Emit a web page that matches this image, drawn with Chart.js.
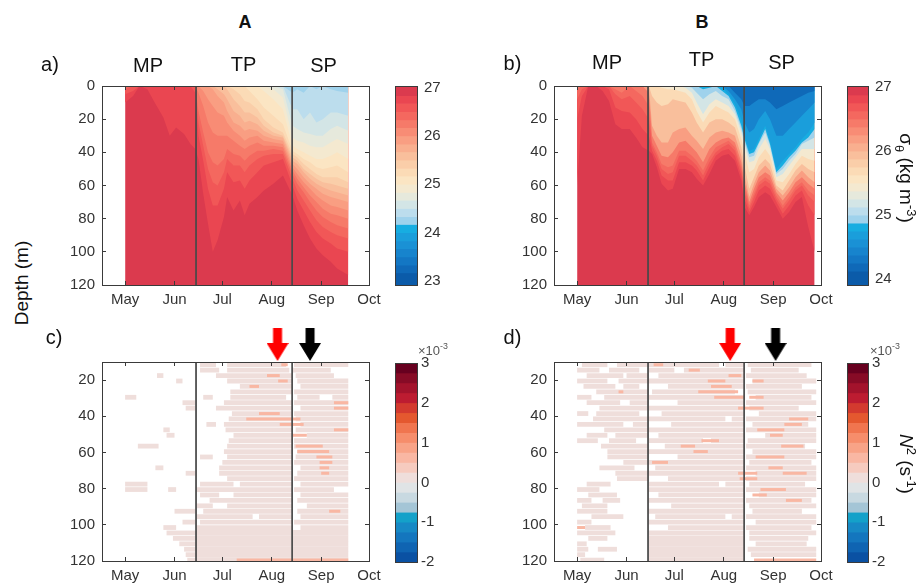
<!DOCTYPE html>
<html><head><meta charset="utf-8">
<script src="https://cdn.jsdelivr.net/npm/chart.js@4.4.1/dist/chart.umd.min.js"></script>
<style>
body{margin:0;background:#fff;}
#fig{position:relative;width:919px;height:587px;overflow:hidden;background:#fff;font-family:"Liberation Sans",Arial,Helvetica,sans-serif;}
canvas{position:absolute;}
.t{position:absolute;white-space:nowrap;transform:translate(-50%,-50%);color:#111;line-height:1;}
.t sub,.t sup{font-size:0.68em;line-height:0;}
</style></head><body><div id="fig"></div>
<script>
// ---------- axes / ticks ----------
const monthTicks = [121,152,182,213,244,274];
const monthNames = ['May','Jun','Jul','Aug','Sep','Oct'];
const depthTicksAB = [0,20,40,60,80,100,120];
const depthTicksCD = [20,40,60,80,100,120];
const timeMin = 106.5, timeMax = 274;
const maxDepth = 120;
const phaseLines = [165.5, 225.8];

// ---------- colour maps ----------
const sigmaColors = ['#db3a4e','#ea4651','#f15757','#f4685f','#f67a69','#f88c75','#f99e82','#f9af8f','#f9bf9c','#facea9','#fbdbb6','#fbe5c3','#f4e9d0','#e6e9dc','#d3e5e6','#bcdded','#9fd2ec','#17ade1','#1a9edb','#1a91d5','#1784cd','#1377c4','#0f69b8','#0b5ba9'];
const n2Colors = ['#67001f','#870b26','#a3132c','#bd1c31','#d33a2f','#e4582f','#f0754f','#f68d6b','#f8a387','#f9b7a3','#f6cbbf','#efdedb','#e0e4e6','#c8d9e1','#a4c5d6','#14a1c9','#1789c5','#1476be','#0f64b2','#0a51a3'];
const edgesA = [27.03,26.83,26.67,26.5,26.33,26.17,26.0,25.83,25.67,25.5,25.33,25.17,25.0,24.83,24.67,24.5,24.33,24.17,24.0,23.83,23.67,23.5,23.33,23.17,22.92];
const edgesB = [27.015,26.875,26.75,26.625,26.5,26.375,26.25,26.125,26.0,25.875,25.75,25.625,25.5,25.375,25.25,25.125,25.0,24.875,24.75,24.625,24.5,24.375,24.25,24.125,23.91];
const edgesN2 = [3,2.75,2.5,2.25,2,1.75,1.5,1.25,1,0.75,0.5,0.25,0,-0.25,-0.5,-0.75,-1,-1.25,-1.5,-1.75,-2];
const cbTicksA = [23,24,25,26,27];
const cbTicksB = [24,25,26,27];
const cbTicksN2 = [-2,-1,0,1,2,3];

// ---------- panel a: isopycnal depths (m) ----------
const timesA = [121,126,130,135,139,145,149,153,158,162,165,167,170,173,176,179,183,185,189,193,196,199,204,208,214,220,226,229,233,237,241,245,250,254,261];
const levelsA = [26.83,26.67,26.5,26.33,26.17,26.0,25.83,25.67,25.5,25.33,25.17,25.0,24.83,24.67,24.5,24.33];
const a26_83 = [10,6,0,2,9,19,30,25,29,35,38, 44,65,83,100,93,79,67,75,69,78,71,67,63,59,54,66, 75,84,92,98,102,106,110,114];
const a26_67 = [5,3,0,0,0,0,0,0,0,0,4, 30,45,62,72,72,62,52,58,57,62,57,52,48,46,44,60, 68,75,82,88,92,95,98,100];
const a26_50 = [2,0,0,0,0,0,0,0,0,0,0, 22,36,50,58,60,52,44,48,48,52,48,44,42,41,41,56, 63,69,75,81,85,88,90,92];
const a26_33 = [0,0,0,0,0,0,0,0,0,0,0, 15,28,40,46,48,44,38,41,42,45,42,39,39,38,39,53, 59,64,70,75,79,82,84,86];
const a26_17 = [0,0,0,0,0,0,0,0,0,0,0, 4,12,22,28,30,30,30,33,36,38,36,34,36,36,37,51, 56,61,66,70,74,77,78,80];
const a26_00 = [0,0,0,0,0,0,0,0,0,0,0, 0,3,8,12,16,18,22,27,30,33,31,30,33,34,35,49, 53,58,62,66,69,72,73,75];
const a25_83 = [0,0,0,0,0,0,0,0,0,0,0, 0,0,0,2,6,10,15,22,24,27,26,27,30,32,33,47, 50,55,59,62,65,67,68,70];
const a25_67 = [0,0,0,0,0,0,0,0,0,0,0, 0,0,0,0,2,5,8,15,18,22,21,23,27,30,31,45, 47,52,56,59,61,63,64,66];
const a25_50 = [0,0,0,0,0,0,0,0,0,0,0, 0,0,0,0,0,0,2,8,12,16,16,19,24,28,30,43, 45,50,53,56,58,59,60,62];
const a25_33 = [0,0,0,0,0,0,0,0,0,0,0, 0,0,0,0,0,0,0,2,5,9,10,14,20,25,28,41, 43,47,50,53,55,55,55,58];
const a25_17 = [0,0,0,0,0,0,0,0,0,0,0, 0,0,0,0,0,0,0,0,0,0,3,8,13,18,23,39, 41,44,46,49,50,49,48,52];
const a25_00 = [0,0,0,0,0,0,0,0,0,0,0, 0,0,0,0,0,0,0,0,0,0,0,0,3,8,14,36, 38,40,42,44,44,42,40,44];
const a24_83 = [0,0,0,0,0,0,0,0,0,0,0, 0,0,0,0,0,0,0,0,0,0,0,0,0,2,7,31, 33,34,36,37,37,34,32,35];
const a24_67 = [0,0,0,0,0,0,0,0,0,0,0, 0,0,0,0,0,0,0,0,0,0,0,0,0,0,2,24, 26,28,29,30,30,26,24,27];
const a24_50 = [0,0,0,0,0,0,0,0,0,0,0, 0,0,0,0,0,0,0,0,0,0,0,0,0,0,0,14, 14,20,16,22,20,16,16,18];
const a24_33 = [0,0,0,0,0,0,0,0,0,0,0, 0,0,0,0,0,0,0,0,0,0,0,0,0,0,0,4, 2,4,0,2,0,2,3,4];
const isoA = [a26_83,a26_67,a26_50,a26_33,a26_17,a26_00,a25_83,a25_67,a25_50,a25_33,a25_17,a25_00,a24_83,a24_67,a24_50,a24_33];

// ---------- panel b: isopycnal depths (m) ----------
const timesB = [121,124,128,133,137,141,145,149,154,158,162,166, 168,171,174,178,181,185,189,193,196,200,204,208,212,216,220,224,226, 229,232,235,239,242,246,250,254,258,262,266,270];
const levelsB = [26.875,26.75,26.625,26.5,26.25,26.0,25.75,25.5,25.25,25.0,24.875,24.75,24.5,24.25];
const b26_875 = [60,18,0,0,3,9,23,26,26,31,37,39, 41,49,59,63,62,50,50,52,56,60,53,45,42,41,45,57,73, 78,73,67,64,66,73,80,76,70,67,85,100];
const b26_750 = [20,6,0,0,0,2,13,15,16,20,26,30, 39,45,54,57,57,46,46,48,51,57,49,42,39,38,42,54,68, 76,70,63,60,62,70,77,72,66,63,72,78];
const b26_625 = [8,2,0,0,0,0,5,8,6,10,14,20, 36,42,50,53,52,42,42,45,48,54,46,40,37,35,39,51,64, 74,67,60,57,59,68,74,69,63,60,66,70];
const b26_500 = [2,0,0,0,0,0,2,4,0,3,6,12, 34,40,47,49,48,39,39,42,45,51,43,37,35,33,37,49,61, 72,65,58,55,57,66,72,67,61,58,63,66];
const b26_250 = [0,0,0,0,0,0,0,0,0,0,0,4, 30,36,42,43,40,34,33,37,40,46,38,34,32,31,34,46,58, 70,62,55,52,54,64,69,64,58,55,59,62];
const b26_000 = [0,0,0,0,0,0,0,0,0,0,0,0, 24,30,34,34,28,26,25,30,33,38,31,28,27,28,30,42,54, 67,59,52,48,51,62,66,61,55,51,55,58];
const b25_750 = [0,0,0,0,0,0,0,0,0,0,0,0, 6,10,12,11,8,9,10,16,22,28,22,20,20,22,25,37,48, 62,55,48,44,47,60,63,57,51,47,50,52];
const b25_500 = [0,0,0,0,0,0,0,0,0,0,0,0, 0,0,1,2,2,3,4,8,15,22,16,12,14,16,20,32,40, 52,50,43,38,42,57,58,53,47,42,44,45];
const b25_250 = [0,0,0,0,0,0,0,0,0,0,0,0, 0,0,0,0,0,0,1,4,10,17,11,8,10,12,17,28,36, 46,45,38,32,38,55,53,48,43,38,38,38];
const b25_000 = [0,0,0,0,0,0,0,0,0,0,0,0, 0,0,0,0,0,0,0,1,4,8,5,3,6,8,15,26,34, 43,42,35,28,36,53,50,45,41,35,33,31];
const b24_875 = [0,0,0,0,0,0,0,0,0,0,0,0, 0,0,0,0,0,0,0,0,0,2,1,0,3,6,13,24,32, 41,40,34,26,35,52,48,43,39,34,31,26];
const b24_750 = [0,0,0,0,0,0,0,0,0,0,0,0, 0,0,0,0,0,0,0,0,0,0,0,0,1,5,11,20,30, 39,38,32,24,33,50,45,41,37,32,28,22];
const b24_500 = [0,0,0,0,0,0,0,0,0,0,0,0, 0,0,0,0,0,0,0,0,0,0,0,0,0,3,8,14,22, 28,26,20,15,20,30,30,26,22,18,14,10];
const b24_250 = [0,0,0,0,0,0,0,0,0,0,0,0, 0,0,0,0,0,0,0,0,0,0,0,0,0,0,4,8,12, 12,10,8,8,10,14,12,10,8,6,4,3];
const isoB = [b26_875,b26_750,b26_625,b26_500,b26_250,b26_000,b25_750,b25_500,b25_250,b25_000,b24_875,b24_750,b24_500,b24_250];

// ---------- panels c, d: N^2 streaks [depth, start day, end day] ----------
const paleC = [
 [17.5,141,145],[20.5,153,157],[29.5,121,128],[32.5,157,165],[35.5,159,165],[47.5,145,149],[50.5,147,152],[56.5,129,142],[68.5,140,145],[71.5,159,165],[77.5,121,135],[80.5,121,135],[80.5,148,153],[92.5,152,165],[98.5,157,165],[101.5,145,153],
 [104.5,147,166],[107.5,151,166],[110.5,155,166],[113.5,158,166],[116.5,159,166],[119.5,160,166],
 [11.5,168,178],[11.5,185,222],[11.5,227,261],[14.5,168,180],[14.5,185,224],[14.5,226,250],[17.5,178,226],[17.5,228,252],
 [20.5,185,226],[20.5,229,261],[23.5,193,226],[23.5,231,261],[26.5,187,226],[26.5,227,261],[29.5,170,176],[29.5,187,222],[29.5,229,243],[29.5,251,261],
 [32.5,183,226],[32.5,227,261],[35.5,178,226],[35.5,231,261],[38.5,188,226],[38.5,227,261],[41.5,186,226],[41.5,228,261],
 [44.5,172,178],[44.5,183,226],[44.5,231,261],[47.5,184,226],[47.5,228,261],[50.5,189,226],[50.5,235,261],[53.5,186,226],[53.5,227,261],
 [56.5,185,226],[56.5,227,261],[59.5,183,226],[59.5,229,261],[62.5,168,176],[62.5,185,226],[62.5,228,261],[65.5,182,226],[65.5,227,261],
 [68.5,180,226],[68.5,231,261],[71.5,180,226],[71.5,229,261],[74.5,185,226],[74.5,227,261],[77.5,168,189],[77.5,193,226],[77.5,231,261],
 [80.5,166,226],[80.5,227,252],[83.5,168,180],[83.5,189,226],[83.5,231,261],[86.5,174,226],[86.5,229,261],
 [89.5,166,176],[89.5,185,226],[89.5,235,261],[92.5,170,226],[92.5,229,261],[95.5,166,201],[95.5,205,226],[95.5,231,261],
 [98.5,168,226],[98.5,227,261],[101.5,166,226],[101.5,231,261]
];
const solidC = [[104.5,166,261],[107.5,166,261],[110.5,166,261],[113.5,166,261],[116.5,166,261],[119.5,166,261]];
const salmonC = [
 [11.5,219,223],[17.5,210,218],[20.5,217,223],[23.5,199,205],[32.5,252,261],[35.5,252,261],[38.5,205,218],[41.5,197,231],
 [44.5,218,233],[47.5,252,261],[50.5,226,235],[56.5,228,245],[59.5,229,249],[62.5,241,251],[65.5,243,251],[68.5,243,249],
 [71.5,244,249],[92.5,249,256],[119.5,191,261]
];
const paleD = [
 [11.5,124,140],[11.5,146,166],[14.5,121,135],[14.5,141,160],[17.5,127,150],[17.5,152,166],[20.5,121,140],[20.5,147,166],
 [23.5,125,145],[23.5,150,160],[26.5,133,166],[29.5,121,130],[29.5,138,166],[32.5,127,148],[32.5,154,166],[35.5,135,166],
 [38.5,121,128],[38.5,133,160],[41.5,131,166],[44.5,121,150],[44.5,156,166],[47.5,138,166],[50.5,127,140],[50.5,145,166],
 [53.5,121,134],[53.5,141,158],[56.5,136,166],[59.5,140,166],[62.5,140,166],[65.5,150,166],[68.5,135,157],[71.5,145,166],
 [74.5,146,166],[77.5,127,142],[80.5,121,135],[83.5,128,146],[86.5,121,130],[86.5,137,148],[89.5,124,140],[92.5,121,140],
 [95.5,130,150],[98.5,121,130],[101.5,126,142],[104.5,121,145],[107.5,128,140],[110.5,121,127],[113.5,121,128],[113.5,134,146],
 [116.5,121,126],[119.5,123,138],
 [11.5,166,210],[11.5,214,226],[11.5,228,268],[14.5,166,182],[14.5,188,226],[14.5,230,260],[17.5,172,226],[17.5,227,265],
 [20.5,166,226],[20.5,231,271],[23.5,178,226],[23.5,227,262],[26.5,168,220],[26.5,228,271],[29.5,166,226],[29.5,233,268],
 [32.5,184,226],[32.5,227,271],[35.5,166,226],[35.5,229,260],[38.5,174,226],[38.5,235,271],[41.5,166,214],[41.5,218,226],[41.5,227,271],
 [44.5,180,226],[44.5,231,266],[47.5,166,226],[47.5,227,271],[50.5,172,226],[50.5,239,271],[53.5,166,200],[53.5,205,226],[53.5,228,271],
 [56.5,176,226],[56.5,227,264],[59.5,166,226],[59.5,231,271],[62.5,184,226],[62.5,227,271],[65.5,166,226],[65.5,229,268],
 [68.5,170,226],[68.5,227,271],[71.5,166,226],[71.5,233,271],[74.5,178,226],[74.5,227,271],[77.5,166,210],[77.5,214,226],[77.5,229,264],
 [80.5,166,226],[80.5,227,271],[83.5,172,226],[83.5,235,271],[86.5,166,226],[86.5,227,268],[89.5,180,226],[89.5,229,271],
 [92.5,166,226],[92.5,231,262],[95.5,170,214],[95.5,218,226],[95.5,227,271],[98.5,166,226],[98.5,233,271],[101.5,178,226],[101.5,227,268],
 [104.5,166,226],[104.5,229,271],[107.5,229,266],[110.5,233,265],[113.5,228,271],[116.5,230,271]
];
const solidD = [[107.5,166,226],[110.5,166,226],[113.5,166,226],[116.5,166,226],[119.5,166,226]];
const salmonD = [
 [11.5,169,175],[14.5,191,198],[17.5,216,224],[20.5,203,214],[20.5,231,238],[23.5,205,218],[26.5,147,150],[26.5,197,222],
 [29.5,207,226],[29.5,229,238],[35.5,222,238],[41.5,254,266],[44.5,251,262],[47.5,234,251],[50.5,242,250],[53.5,199,210],
 [56.5,186,195],[56.5,249,263],[59.5,194,203],[62.5,233,251],[65.5,168,178],[68.5,241,250],[71.5,222,234],[71.5,250,265],
 [74.5,223,234],[80.5,236,252],[83.5,231,240],[86.5,252,262],[101.5,121,126],[119.5,232,271]
];
const arrowTimesC = [216.6, 237];
const arrowTimesD = [217, 245.5];
const arrowDepth = 0.3;
const arrowColors = ['#ff0000', '#000000'];

// ---------- helpers ----------
const FONT = '"Liberation Sans", Arial, Helvetica, sans-serif';
Chart.defaults.font.family = FONT;
const tickFont = {family: FONT, size: 15};
const AX = '#3a3a3a';
const fig = document.getElementById('fig');

function mkCanvas(left, top, w, h) {
  const c = document.createElement('canvas');
  c.width = w; c.height = h;
  c.style.left = left + 'px'; c.style.top = top + 'px';
  c.style.width = w + 'px'; c.style.height = h + 'px';
  fig.appendChild(c);
  return c.getContext('2d');
}
function fixedTicks(list) { return s => { s.ticks = list.map(v => ({value: v})); }; }
function edgeAxis(pos, min, max, list, size, extra) {
  const horiz = pos === 'top' || pos === 'bottom';
  return Object.assign({
    type: 'linear', position: pos, min, max, offset: false,
    afterBuildTicks: fixedTicks(list),
    afterFit: s => { if (horiz) s.height = size; else s.width = size; },
    ticks: {display: false},
    grid: {display: true, drawOnChartArea: false, drawTicks: true, tickLength: -4, color: AX, lineWidth: 1, offset: false, z: 1},
    border: {display: true, color: AX, width: 1, z: 1}
  }, extra || {});
}
function panelScales(ymin, ymax, yList) {
  return {
    x: edgeAxis('bottom', timeMin, timeMax, monthTicks, 25, {ticks: {display: true, autoSkip: false, maxRotation: 0, minRotation: 0, font: tickFont, color: '#333', padding: 10, callback: v => monthNames[monthTicks.indexOf(v)]}}),
    x2: edgeAxis('top', timeMin, timeMax, monthTicks, 0),
    y: edgeAxis('left', ymin, ymax, yList, 62, {reverse: true, ticks: {display: true, font: tickFont, color: '#333', padding: 11}}),
    y2: edgeAxis('right', ymin, ymax, yList, 0, {reverse: true})
  };
}
const baseOpts = {responsive: false, animation: false, events: [], plugins: {legend: {display: false}, tooltip: {enabled: false}}};

function densityPanel(ctx, times, levels, isos, edges) {
  const datasets = [];
  phaseLines.forEach(t => datasets.push({data: [{x: t, y: 0}, {x: t, y: maxDepth}], borderColor: '#4a4a4a', borderWidth: 1, pointRadius: 0, fill: false}));
  for (let k = levels.length - 1; k >= 0; k--) {
    datasets.push({data: times.map((t, i) => ({x: t, y: isos[k][i]})), backgroundColor: sigmaColors[edges.indexOf(levels[k])], borderWidth: 0, pointRadius: 0, fill: {value: 0}});
  }
  datasets.push({data: times.map(t => ({x: t, y: maxDepth})), backgroundColor: sigmaColors[0], borderWidth: 0, pointRadius: 0, fill: {value: 0}});
  new Chart(ctx, {type: 'line', data: {datasets}, options: Object.assign({}, baseOpts, {
    layout: {padding: {left: 0, top: 22, right: 22, bottom: 0}},
    scales: panelScales(0, maxDepth, depthTicksAB)
  })});
}

function arrowImg(color) {
  const c = document.createElement('canvas'); c.width = 22; c.height = 33;
  const g = c.getContext('2d'); g.fillStyle = color;
  g.beginPath(); g.moveTo(6.5, 0); g.lineTo(15.5, 0); g.lineTo(15.5, 15); g.lineTo(22, 15); g.lineTo(11, 33); g.lineTo(0, 15); g.lineTo(6.5, 15); g.closePath(); g.fill();
  return c;
}

function n2Panel(ctx, pale, solid, salmon, arrowTimes) {
  const bar = (segs, color, pct) => ({type: 'bar', data: segs.map(s => ({y: s[0], x: [s[1], s[2]]})), backgroundColor: color, borderWidth: 0, grouped: false, categoryPercentage: 1, barPercentage: pct});
  const datasets = [];
  arrowTimes.forEach((t, i) => datasets.push({type: 'scatter', data: [{x: t, y: arrowDepth}], pointStyle: arrowImg(arrowColors[i]), pointRadius: 19, pointBorderWidth: 1, clip: false}));
  phaseLines.forEach(t => datasets.push({type: 'line', data: [{x: t, y: 10}, {x: t, y: maxDepth}], borderColor: '#4a4a4a', borderWidth: 1, pointRadius: 0, fill: false}));
  datasets.push(bar(salmon, n2Colors[9], 0.55));
  datasets.push(bar(pale, n2Colors[11], 0.88));
  datasets.push(bar(solid, n2Colors[11], 1.05));
  new Chart(ctx, {type: 'bar', data: {datasets}, options: Object.assign({}, baseOpts, {
    indexAxis: 'y',
    layout: {padding: {left: 0, top: 42, right: 22, bottom: 0}},
    scales: panelScales(10, maxDepth, depthTicksCD)
  })});
}

function colorbar(ctx, edges, colors, ticks, axisW, pad) {
  const datasets = [];
  for (let j = 0; j < edges.length - 1; j++) {
    datasets.push({data: [[edges[j + 1], edges[j]]], backgroundColor: colors[j], borderWidth: 0, grouped: false, categoryPercentage: 1, barPercentage: 1});
  }
  const bx = {display: true, color: AX, width: 1, z: 1};
  const noGrid = {display: false, drawTicks: false};
  const lo = edges[edges.length - 1], hi = edges[0];
  new Chart(ctx, {type: 'bar', data: {labels: [''], datasets}, options: Object.assign({}, baseOpts, {
    layout: {padding: {left: 10, top: 16, right: 0, bottom: 25}},
    scales: {
      x: {type: 'category', position: 'bottom', offset: true, afterFit: s => { s.height = 0; }, ticks: {display: false}, grid: noGrid, border: bx},
      x2: {type: 'category', position: 'top', offset: true, afterFit: s => { s.height = 0; }, ticks: {display: false}, grid: noGrid, border: bx},
      y: {type: 'linear', position: 'right', min: lo, max: hi, afterBuildTicks: fixedTicks(ticks), afterFit: s => { s.width = axisW; },
          ticks: {font: tickFont, color: '#333', padding: pad}, grid: noGrid, border: bx},
      y2: {type: 'linear', position: 'left', min: lo, max: hi, afterFit: s => { s.width = 0; }, ticks: {display: false}, grid: noGrid, border: bx}
    }
  })});
}

// ---------- build ----------
densityPanel(mkCanvas(40, 64, 351, 246), timesA, levelsA, isoA, edgesA);
densityPanel(mkCanvas(492, 64, 351, 246), timesB, levelsB, isoB, edgesB);
n2Panel(mkCanvas(40, 320, 351, 266), paleC, solidC, salmonC, arrowTimesC);
n2Panel(mkCanvas(492, 320, 351, 266), paleD, solidD, salmonD, arrowTimesD);
colorbar(mkCanvas(385, 70, 75, 240), edgesA, sigmaColors, cbTicksA, 43, 7);
colorbar(mkCanvas(837, 70, 74, 240), edgesB, sigmaColors, cbTicksB, 43, 7);
colorbar(mkCanvas(385, 347, 75, 240), edgesN2, n2Colors, cbTicksN2, 43, 4);
colorbar(mkCanvas(837, 347, 74, 240), edgesN2, n2Colors, cbTicksN2, 43, 4);

// ---------- text ----------
const texts = [
  {h: 'A', x: 245, y: 22, s: 18, w: 'bold'},
  {h: 'B', x: 702, y: 22, s: 18, w: 'bold'},
  {h: 'a)', x: 50, y: 64, s: 20},
  {h: 'MP', x: 148, y: 65, s: 20}, {h: 'TP', x: 243.5, y: 64, s: 20}, {h: 'SP', x: 323.5, y: 65, s: 20},
  {h: 'b)', x: 512.5, y: 63, s: 20},
  {h: 'MP', x: 607, y: 62, s: 20}, {h: 'TP', x: 701.5, y: 59, s: 20}, {h: 'SP', x: 781.5, y: 62, s: 20},
  {h: 'c)', x: 54, y: 337, s: 20},
  {h: 'd)', x: 512.5, y: 337, s: 20},
  {h: 'Depth (m)', x: 21, y: 283, s: 19, r: -90},
  {h: '&sigma;<sub>&theta;</sub> (kg m<sup>-3</sup>)', x: 906, y: 178, s: 19, r: 90},
  {h: '<i>N</i><sup>2</sup> (s<sup>-1</sup>)', x: 906, y: 464, s: 19, r: 90}
];
texts.forEach(o => {
  const d = document.createElement('div');
  d.className = 't';
  d.innerHTML = o.h;
  d.style.left = o.x + 'px'; d.style.top = o.y + 'px';
  d.style.fontSize = o.s + 'px';
  if (o.w) d.style.fontWeight = o.w;
  if (o.r) d.style.transform = 'translate(-50%,-50%) rotate(' + o.r + 'deg)';
  fig.appendChild(d);
});
[418, 870].forEach(x => {
  const d = document.createElement('div');
  d.className = 't';
  d.innerHTML = '&times;10<sup>-3</sup>';
  d.style.left = x + 'px'; d.style.top = '350px';
  d.style.fontSize = '13px'; d.style.color = '#555';
  d.style.transform = 'translate(0,-50%)';
  fig.appendChild(d);
});
</script>
</body></html>
